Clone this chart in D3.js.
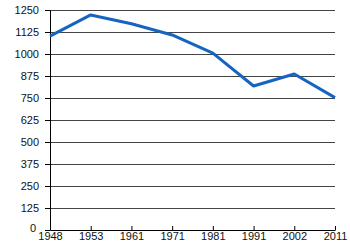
<!DOCTYPE html>
<html>
<head>
<meta charset="utf-8">
<script src="https://cdn.jsdelivr.net/npm/d3@7"></script>
<style>
  body { margin: 0; background: #fff; }
  text { font-family: "Liberation Sans", Arial, sans-serif; font-size: 11px; fill: #111; }
</style>
</head>
<body>
<svg id="chart" width="350" height="250"></svg>
<script>
// years on the x axis (equally spaced)
var years = ["1948", "1953", "1961", "1971", "1981", "1991", "2002", "2011"];
// population values
var values = [1102, 1222, 1172, 1108, 1005, 818, 886, 752];
// y tick labels
var yTicks = [0, 125, 250, 375, 500, 625, 750, 875, 1000, 1125, 1250];

var svg = d3.select("#chart");
var mLeft = 50, mRight = 335, mTop = 10, mBottom = 230;

var x = d3.scalePoint().domain(years).range([mLeft, mRight]);
var y = d3.scaleLinear().domain([0, 1250]).range([mBottom, mTop]);

// gridlines
svg.append("g").selectAll("line").data(yTicks.slice(1)).enter().append("line")
  .attr("x1", mLeft).attr("x2", mRight)
  .attr("y1", function(d){ return y(d); }).attr("y2", function(d){ return y(d); })
  .style("stroke", "#444").style("stroke-width", 1).attr("shape-rendering", "crispEdges");

// y axis
var yAxis = svg.append("g").attr("transform", "translate(" + mLeft + ",0)")
  .call(d3.axisLeft(y).tickValues(yTicks).tickFormat(d3.format("d")).tickSize(5).tickPadding(6));
yAxis.select(".domain").style("stroke", "#000");
yAxis.selectAll("line").style("stroke", "#000");
yAxis.selectAll("text").style("font-size", "11px").style("fill", "#111");
// the zero label sits a bit left and up, clear of the first year
yAxis.selectAll(".tick text").filter(function(d){ return d === 0; })
  .attr("x", -14).attr("dy", "0.1em");

// x axis - ticks point up into the plot
var xAxis = svg.append("g").attr("transform", "translate(0," + mBottom + ")")
  .call(d3.axisBottom(x).tickSizeInner(4).tickSizeOuter(0).tickPadding(4));
xAxis.select(".domain").style("stroke", "#000");
xAxis.selectAll(".tick line").attr("y1", -4).attr("y2", 0).style("stroke", "#000");
xAxis.selectAll("text").attr("y", 2.5).style("font-size", "11px").style("fill", "#111");

// line
var line = d3.line()
  .x(function(d, i){ return x(years[i]); })
  .y(function(d){ return y(d); });

svg.append("path").datum(values)
  .attr("d", line)
  .style("fill", "none")
  .style("stroke", "#1565c0")
  .style("stroke-width", 3)
  .style("stroke-linejoin", "round");
</script>
</body>
</html>
